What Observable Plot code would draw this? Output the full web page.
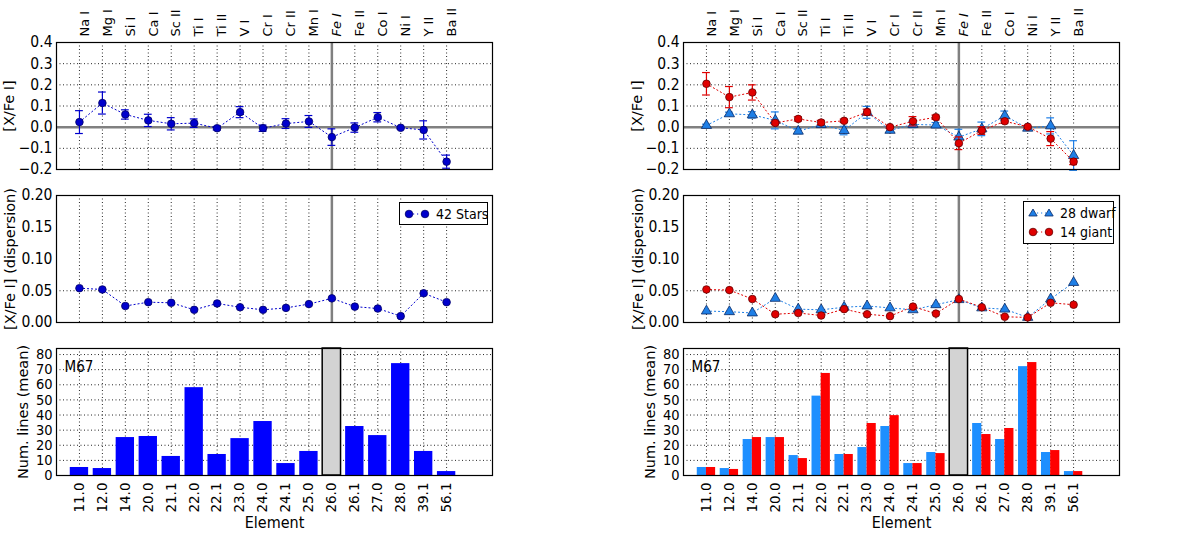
<!DOCTYPE html>
<html>
<head>
<meta charset="utf-8">
<script src="https://cdn.jsdelivr.net/npm/d3@7"></script>
<script src="https://cdn.jsdelivr.net/npm/@observablehq/plot@0.6"></script>
<style>
  body { margin: 0; background: #fff; }
  #fig { position: relative; width: 1200px; height: 534px; overflow: hidden;
         font-family: "DejaVu Sans Condensed", "DejaVu Sans", sans-serif; }
  #fig > svg { position: absolute; overflow: visible; }
  .legend { position: absolute; box-sizing: border-box; border: 1.5px solid #000; background: #fff;
            font-size: 14px; color: #000; padding: 1px 4px; white-space: nowrap; }
  .legend div { display: flex; align-items: center; height: 19px; }
  .legend svg { margin-right: 6px; flex: none; }
</style>
</head>
<body>
<div id="fig"></div>
<script>
// element labels (top) and codes (bottom)
const elements = ["Na I","Mg I","Si I","Ca I","Sc II","Ti I","Ti II","V I","Cr I","Cr II","Mn I","Fe I","Fe II","Co I","Ni I","Y II","Ba II"];
const codes = ["11.0","12.0","14.0","20.0","21.1","22.0","22.1","23.0","24.0","24.1","25.0","26.0","26.1","27.0","28.0","39.1","56.1"];
const refIndex = 11; // Fe I reference

// left: all 42 stars
const allMean = [0.024,0.114,0.060,0.032,0.016,0.019,-0.005,0.071,-0.005,0.017,0.027,-0.047,-0.002,0.047,-0.003,-0.013,-0.163];
const allErr  = [0.054,0.052,0.022,0.029,0.029,0.020,0.008,0.026,0.015,0.023,0.028,0.039,0.022,0.022,0.005,0.043,0.031];
const allDisp = [0.054,0.052,0.026,0.032,0.031,0.020,0.030,0.024,0.020,0.023,0.029,0.038,0.025,0.022,0.010,0.046,0.032];
const allLines = [5.3,4.6,25.1,25.8,12.6,58.1,13.9,24.4,35.7,7.9,15.9,null,32.4,26.4,74.0,15.9,2.6];

// right: 28 dwarfs and 14 giants
const dwarfMean = [0.008,0.063,0.058,0.032,-0.019,0.012,-0.016,0.070,-0.015,0.013,0.010,-0.047,-0.008,0.054,-0.005,0.006,-0.134];
const dwarfErr  = [0.006,0.008,0.015,0.040,0.012,0.012,0.020,0.028,0.010,0.015,0.012,0.037,0.032,0.022,0.010,0.038,0.070];
const giantMean = [0.205,0.142,0.164,0.020,0.039,0.022,0.030,0.071,0.000,0.028,0.047,-0.076,-0.016,0.028,0.002,-0.054,-0.163];
const giantErr  = [0.053,0.050,0.036,0.008,0.010,0.010,0.008,0.014,0.006,0.022,0.010,0.030,0.018,0.010,0.006,0.033,0.014];
const dwarfDisp = [0.018,0.017,0.015,0.038,0.021,0.020,0.024,0.026,0.023,0.020,0.028,0.036,0.023,0.021,0.008,0.037,0.063];
const giantDisp = [0.052,0.051,0.037,0.013,0.015,0.011,0.021,0.013,0.010,0.025,0.014,0.037,0.024,0.009,0.008,0.031,0.028];
const dwarfLines = [5.3,4.6,23.8,25.1,13.2,52.5,13.9,18.5,32.4,7.9,15.2,null,34.4,23.8,72.0,15.2,2.6];
const giantLines = [5.3,4.0,25.1,25.1,11.2,67.5,13.9,34.4,39.6,7.9,14.5,null,27.1,31.1,74.7,16.5,2.6];

const meanTicks = [-0.2,-0.1,0.0,0.1,0.2,0.3,0.4];
const dispTicks = [0.00,0.05,0.10,0.15,0.20];
const linesTicks = [0,10,20,30,40,50,60,70,80];
const linesMax = 84;

const idx = d3.range(elements.length);
const fig = document.getElementById("fig");

const WIDE = "'DejaVu Sans', sans-serif";   // rotated texts
const BLUE = "#0000cc", BLUE_EDGE = "#000066", BAR_BLUE = "#0000ff";
const DWARF = "#1f7fe6", DWARF_EDGE = "#0a2a66", DWARF_BAR = "#1e8fff";
const GIANT = "#e00000", GIANT_EDGE = "#660000", GIANT_BAR = "#ff0000";

const cols = [{left: 0, mL: 56, mR: 108}, {left: 600, mL: 83, mR: 81}];
const rows = [{top: 0, h: 180, mT: 42, mB: 11}, {top: 180, h: 150, mT: 15, mB: 8}, {top: 330, h: 204, mT: 18, mB: 59}];

const rowsOf = (mean, err) => idx.map(i => ({i, v: mean[i], e: err ? err[i] : 0}));

function panel(c, r, y, marks) {
  const svg = Plot.plot({
    width: 600, height: r.h,
    marginLeft: c.mL, marginRight: c.mR, marginTop: r.mT, marginBottom: r.mB,
    x: {domain: [-1, 18], axis: null},
    y: {domain: y.domain, axis: null},
    style: {fontFamily: "'DejaVu Sans Condensed', 'DejaVu Sans', sans-serif", fontSize: "15px", color: "#000", background: "transparent"},
    marks: [
      Plot.ruleX(idx, {stroke: "#000", strokeDasharray: "1,2.5", strokeWidth: 1, strokeOpacity: 0.85}),
      Plot.ruleY(y.grid, {stroke: "#000", strokeDasharray: "1,2.5", strokeWidth: 1, strokeOpacity: 0.85}),
      ...marks,
      Plot.axisY({ticks: y.ticks, tickFormat: y.format, tickSize: 0, tickPadding: 4, fontSize: y.tickSize, label: null}),
      Plot.text([y.label], {frameAnchor: "left", dx: y.labelDx, rotate: -90, textAnchor: "middle", fontSize: 14.5, fontFamily: WIDE}),
      Plot.frame({stroke: "#000", strokeWidth: 1.2})
    ]
  });
  svg.style.left = c.left + "px";
  svg.style.top = r.top + "px";
  fig.append(svg);
}

function errMarks(data, color, symbol, fill, edge) {
  return [
    Plot.line(data, {x: "i", y: "v", stroke: color, strokeWidth: 1, strokeDasharray: "1.2,2.8"}),
    Plot.ruleX(data, {x: "i", y1: d => d.v - d.e, y2: d => d.v + d.e, stroke: color, strokeWidth: 1.2}),
    Plot.ruleY(data, {y: d => d.v + d.e, x1: d => d.i - 0.17, x2: d => d.i + 0.17, stroke: color, strokeWidth: 1.2}),
    Plot.ruleY(data, {y: d => d.v - d.e, x1: d => d.i - 0.17, x2: d => d.i + 0.17, stroke: color, strokeWidth: 1.2}),
    Plot.dot(data, {x: "i", y: "v", r: 3.8, symbol, fill, stroke: edge, strokeWidth: 0.8})
  ];
}

function topLabels() {
  return [
    Plot.text(idx.filter(i => i !== refIndex), {x: d => d, text: d => elements[d], frameAnchor: "top",
      rotate: -90, textAnchor: "start", dy: -6, fontSize: 13, fontFamily: WIDE}),
    Plot.text([refIndex], {x: d => d, text: d => elements[d], frameAnchor: "top",
      rotate: -90, textAnchor: "start", dy: -6, fontSize: 13, fontFamily: WIDE, fontStyle: "italic"})
  ];
}

const refLines = [
  Plot.ruleX([refIndex], {stroke: "#808080", strokeWidth: 2.5})
];

const meanY = (dx) => ({domain: [-0.2, 0.4], ticks: meanTicks, grid: [-0.1, 0.1, 0.2, 0.3], format: d3.format(".1f"), tickSize: 15.5, label: "[X/Fe I]", labelDx: dx});
const dispY = (dx) => ({domain: [0, 0.2], ticks: dispTicks, grid: [0.05], format: d3.format(".2f"), tickSize: 15.5, label: "[X/Fe I] (dispersion)", labelDx: dx});
const linesY = (dx) => ({domain: [0, linesMax], ticks: linesTicks, grid: linesTicks.slice(1), format: d3.format("d"), tickSize: 14.5, label: "Num. lines (mean)", labelDx: dx});

function bottomExtras() {
  return [
    Plot.rectY([refIndex], {x1: d => d - 0.4, x2: d => d + 0.4, y1: 0, y2: linesMax, fill: "#d3d3d3", stroke: "#000", strokeWidth: 1.5}),
    Plot.axisX({anchor: "bottom", ticks: idx, tickFormat: i => codes[i], tickRotate: -90, tickSize: 0, tickPadding: 7, fontSize: 13.5, fontFamily: WIDE, label: null}),
    Plot.text(["Element"], {frameAnchor: "bottom", dy: 52, fontSize: 16}),
    Plot.text(["M67"], {frameAnchor: "top-left", dx: 8, dy: 13, fontSize: 15, textAnchor: "start"})
  ];
}

// ---- left column ----
panel(cols[0], rows[0], meanY(-47), [
  Plot.ruleY([0], {stroke: "#808080", strokeWidth: 2.5}), ...refLines,
  ...errMarks(rowsOf(allMean, allErr), BLUE, "circle", BLUE, BLUE_EDGE),
  ...topLabels()
]);
panel(cols[0], rows[1], dispY(-46), [
  ...refLines,
  ...errMarks(rowsOf(allDisp), BLUE, "circle", BLUE, BLUE_EDGE).filter((m, k) => k === 0 || k === 4)
]);
panel(cols[0], rows[2], linesY(-33), [
  Plot.rectY(idx.filter(i => allLines[i] != null), {x1: i => i - 0.4, x2: i => i + 0.4, y1: 0, y2: i => allLines[i], fill: BAR_BLUE}),
  ...bottomExtras()
]);

// ---- right column ----
panel(cols[1], rows[0], meanY(-46), [
  Plot.ruleY([0], {stroke: "#808080", strokeWidth: 2.5}), ...refLines,
  ...errMarks(rowsOf(dwarfMean, dwarfErr), DWARF, "triangle", DWARF, DWARF_EDGE),
  ...errMarks(rowsOf(giantMean, giantErr), GIANT, "circle", GIANT, GIANT_EDGE),
  ...topLabels()
]);
panel(cols[1], rows[1], dispY(-45), [
  ...refLines,
  ...errMarks(rowsOf(dwarfDisp), DWARF, "triangle", DWARF, DWARF_EDGE).filter((m, k) => k === 0 || k === 4),
  ...errMarks(rowsOf(giantDisp), GIANT, "circle", GIANT, GIANT_EDGE).filter((m, k) => k === 0 || k === 4)
]);
panel(cols[1], rows[2], linesY(-33), [
  Plot.rectY(idx.filter(i => dwarfLines[i] != null), {x1: i => i - 0.4, x2: i => i, y1: 0, y2: i => dwarfLines[i], fill: DWARF_BAR}),
  Plot.rectY(idx.filter(i => giantLines[i] != null), {x1: i => i, x2: i => i + 0.4, y1: 0, y2: i => giantLines[i], fill: GIANT_BAR}),
  ...bottomExtras()
]);

// ---- legends ----
function marker(symbol, fill, edge, color) {
  const s = symbol === "circle"
    ? (cx) => `<circle cx="${cx}" cy="6" r="3.8" fill="${fill}" stroke="${edge}" stroke-width="0.8"/>`
    : (cx) => `<path d="M${cx},2L${cx + 4.2},9L${cx - 4.2},9Z" fill="${fill}" stroke="${edge}" stroke-width="0.8"/>`;
  return `<svg width="26" height="12"><line x1="5" x2="21" y1="6" y2="6" stroke="${color}" stroke-dasharray="1.2,2.8"/>${s(5)}${s(21)}</svg>`;
}
function legend(left, top, width, height, entries) {
  const d = document.createElement("div");
  d.className = "legend";
  Object.assign(d.style, {left: left + "px", top: top + "px", width: width + "px", height: height + "px"});
  d.innerHTML = entries.map(e => `<div>${marker(...e.m)}<span>${e.t}</span></div>`).join("");
  fig.append(d);
}
legend(399, 202, 89, 23, [{m: ["circle", BLUE, BLUE_EDGE, BLUE], t: "42 Stars"}]);
legend(1023, 201, 91, 43, [
  {m: ["triangle", DWARF, DWARF_EDGE, DWARF], t: "28 dwarf"},
  {m: ["circle", GIANT, GIANT_EDGE, GIANT], t: "14 giant"}
]);
</script>
</body>
</html>
